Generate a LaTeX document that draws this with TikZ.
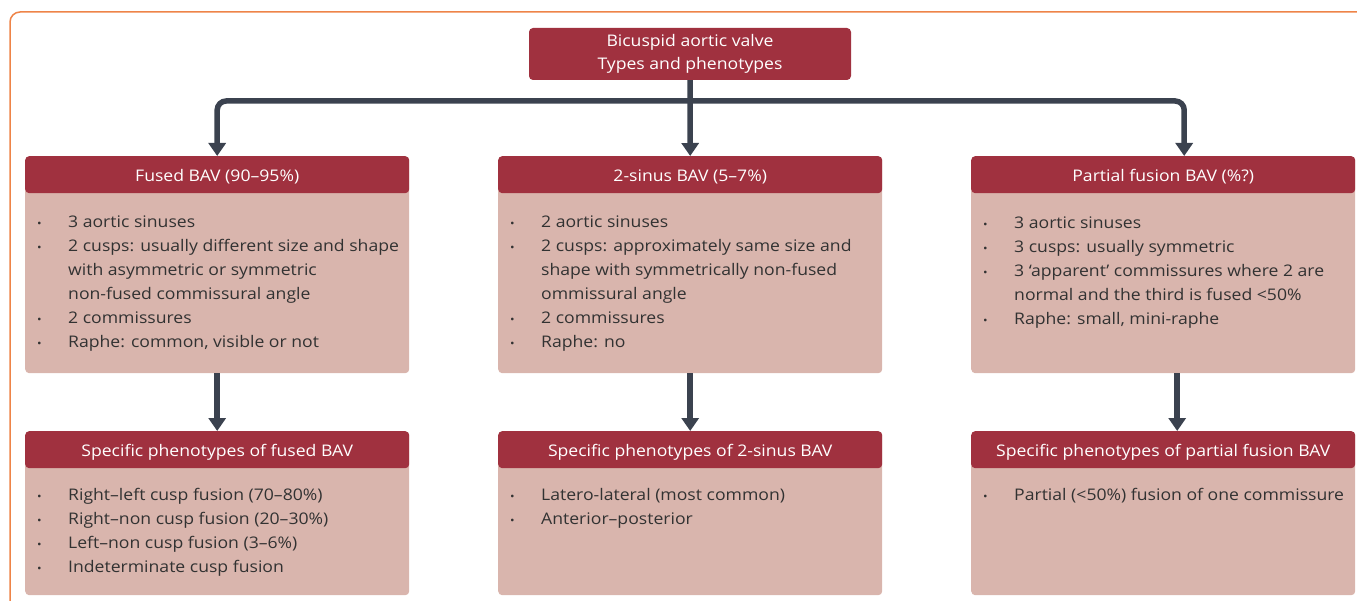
\documentclass[tikz,border=0pt]{standalone}
\usepackage{fontspec}
\setmainfont{Open Sans}[FakeStretch=1.1]
\usetikzlibrary{arrows.meta}

\definecolor{bavred}{RGB}{160,49,63}
\definecolor{bavpink}{RGB}{217,181,173}
\definecolor{bavslate}{RGB}{59,66,79}
\definecolor{bavtext}{RGB}{50,50,50}
\definecolor{bavorange}{RGB}{238,132,72}

\newcommand{\bulitem}{\makebox[31pt][l]{\fontsize{11}{11}\selectfont\textbullet}}
\newcommand{\bulcont}{\hspace*{31pt}}

\begin{document}
\begin{tikzpicture}[x=1pt, y=-1pt,
  headbox/.style={fill=bavred, text=white, rounded corners=4pt, inner sep=0pt,
    font=\fontsize{16}{23}\selectfont},
  colhead/.style={headbox, anchor=north west, minimum width=384pt, minimum height=37pt,
    text height=13pt, text depth=0pt},
  cardbox/.style={fill=bavpink, rounded corners=4pt, anchor=north west,
    minimum width=384pt, inner sep=0pt},
  cardtext/.style={anchor=north west, align=left, inner sep=0pt, text=bavtext,
    font=\fontsize{16}{24}\selectfont},
  conn/.style={draw=bavslate, line width=5.5pt, rounded corners=9pt,
    -{Triangle[width=17pt,length=13pt]}}]

\useasboundingbox (0,0) rectangle (1357,601);

% outer frame
\draw[bavorange, line width=1.5pt, rounded corners=10pt] (10,640) |- (1400,12);

% title
\node[headbox, minimum width=322pt, minimum height=52pt, align=center]
  (title) at (690,54) {Bicuspid aortic valve\\Types and phenotypes};

% types
\node[cardbox, minimum height=217pt] (fusedbody) at (25,156) {};
\node[colhead] (fusedhead) at (25,156) {Fused BAV (90–95\%)};
\node[cardbox, minimum height=217pt] (twobody) at (498,156) {};
\node[colhead] (twohead) at (498,156) {2-sinus BAV (5–7\%)};
\node[cardbox, minimum height=217pt] (partbody) at (971,156) {};
\node[colhead] (parthead) at (971,156) {Partial fusion BAV (\%?)};

\node[cardtext] (fusedlist) at (37,216) {\bulitem 3 aortic sinuses\\
  \bulitem 2 cusps: usually different size and shape\\
  \bulcont with asymmetric or symmetric\\
  \bulcont non-fused commissural angle\\
  \bulitem 2 commissures\\
  \bulitem Raphe: common, visible or not};
\node[cardtext] (twolist) at (510,216) {\bulitem 2 aortic sinuses\\
  \bulitem 2 cusps: approximately same size and\\
  \bulcont shape with symmetrically non-fused\\
  \bulcont ommissural angle\\
  \bulitem 2 commissures\\
  \bulitem Raphe: no};
\node[cardtext] (partlist) at (983,217) {\bulitem 3 aortic sinuses\\
  \bulitem 3 cusps: usually symmetric\\
  \bulitem 3 ‘apparent’ commissures where 2 are\\
  \bulcont normal and the third is fused <50\%\\
  \bulitem Raphe: small, mini-raphe};

% phenotypes
\node[cardbox, minimum height=164pt] (fusedphbody) at (25,431) {};
\node[colhead] (fusedphen) at (25,431) {Specific phenotypes of fused BAV};
\node[cardbox, minimum height=164pt] (twophbody) at (498,431) {};
\node[colhead] (twophen) at (498,431) {Specific phenotypes of 2-sinus BAV};
\node[cardbox, minimum height=164pt] (partphbody) at (971,431) {};
\node[colhead] (partphen) at (971,431) {Specific phenotypes of partial fusion BAV};

\node[cardtext] (fusedphlist) at (37,488) {\bulitem Right–left cusp fusion (70–80\%)\\
  \bulitem Right–non cusp fusion (20–30\%)\\
  \bulitem Left–non cusp fusion (3–6\%)\\
  \bulitem Indeterminate cusp fusion};
\node[cardtext] (twophlist) at (510,488) {\bulitem Latero-lateral (most common)\\
  \bulitem Anterior–posterior};
\node[cardtext] (partphlist) at (983,488) {\bulitem Partial (<50\%) fusion of one commissure};

% connectors
\coordinate (bus) at (690,101);
\draw[conn] (title.south) -- (twohead.north);
\draw[conn] (bus) -| (fusedhead.north);
\draw[conn] (bus) -| ([xshift=21pt]parthead.north);
\draw[conn] (fusedbody.south) -- (fusedphen.north);
\draw[conn] (twobody.south) -- (twophen.north);
\draw[conn] ([xshift=14pt]partbody.south) -- ([xshift=14pt]partphen.north);

\end{tikzpicture}
\end{document}
